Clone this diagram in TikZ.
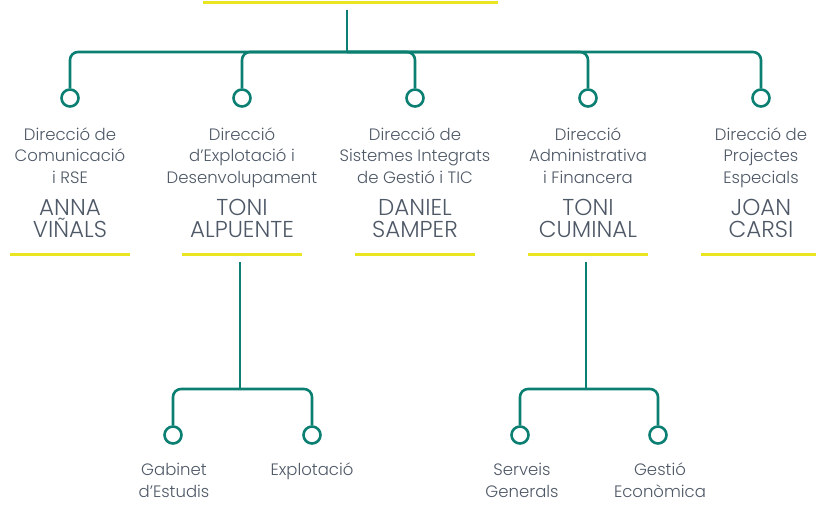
\documentclass[tikz,border=0pt]{standalone}
\usepackage{fontspec}
\setmainfont{Poppins}[UprightFont=* Light]
\definecolor{orggreen}{HTML}{0B7F72}
\definecolor{orgyellow}{HTML}{E9E621}
\definecolor{txtgray}{HTML}{4E5866}
\tikzset{
  link/.style={draw=orggreen, line width=2.6pt, rounded corners=8pt},
  trunk/.style={draw=orggreen, line width=2.6pt},
  dot/.style={circle, draw=orggreen, line width=2.6pt, minimum size=17pt, inner sep=0pt, fill=white},
  dept/.style={text=txtgray, font=\fontsize{16.5}{21.5}\selectfont, align=center, inner sep=0pt, anchor=base},
  pname/.style={text=txtgray, font=\fontsize{23}{22}\selectfont, align=center, inner sep=0pt, anchor=base},
  uline/.style={draw=orgyellow, line width=3pt},
}
\begin{document}
\begin{tikzpicture}[x=1pt,y=-1pt]
\useasboundingbox (0,0) rectangle (816,504);
% top
\coordinate (tl) at (203,2.5);
\coordinate (tr) at (498,2.5);
\draw[uline] (tl) -- (tr);
\coordinate (top) at (347,10);
\coordinate (hub) at (347,52);
\draw[trunk] (top) -- (hub);
% level 1 dots
\foreach \i/\x in {1/70,2/242,3/415,4/588,5/761}{
  \node[dot] (c\i) at (\x,98) {};
  \draw[link] (hub) -| (c\i.north);
  \coordinate (u\i a) at (\x-60,254);
  \coordinate (u\i b) at (\x+60,254);
  \draw[uline] (u\i a) -- (u\i b);
}
% descriptions (base anchor = last line baseline)
\node[dept] (d1) at (70,183) {Direcció de\\Comunicació\\i RSE};
\node[dept] (d2) at (242,183) {Direcció\\d'Explotació i\\Desenvolupament};
\node[dept] (d3) at (415,183) {Direcció de\\Sistemes Integrats\\de Gestió i TIC};
\node[dept] (d4) at (588,183) {Direcció\\Administrativa\\i Financera};
\node[dept] (d5) at (761,183) {Direcció de\\Projectes\\Especials};
% names
\node[pname] (n1) at (70,237) {ANNA\\VIÑALS};
\node[pname] (n2) at (242,237) {TONI\\ALPUENTE};
\node[pname] (n3) at (415,237) {DANIEL\\SAMPER};
\node[pname] (n4) at (588,237) {TONI\\CUMINAL};
\node[pname] (n5) at (761,237) {JOAN\\CARSI};
% sub level left
\coordinate (s1) at (240,262);
\coordinate (j1) at (240,389);
\draw[trunk] (s1) -- (j1);
\node[dot] (g1) at (173,435) {};
\node[dot] (g2) at (312,435) {};
\draw[link] (j1) -| (g1.north);
\draw[link] (j1) -| (g2.north);
% sub level right
\coordinate (s2) at (586,262);
\coordinate (j2) at (586,389);
\draw[trunk] (s2) -- (j2);
\node[dot] (g3) at (520,435) {};
\node[dot] (g4) at (658,435) {};
\draw[link] (j2) -| (g3.north);
\draw[link] (j2) -| (g4.north);
% sub texts
\node[dept] (t1) at (174,497) {Gabinet\\d'Estudis};
\node[dept] (t2) at (312,475) {Explotació};
\node[dept] (t3) at (522,497) {Serveis\\Generals};
\node[dept] (t4) at (660,497) {Gestió\\Econòmica};
\end{tikzpicture}
\end{document}
